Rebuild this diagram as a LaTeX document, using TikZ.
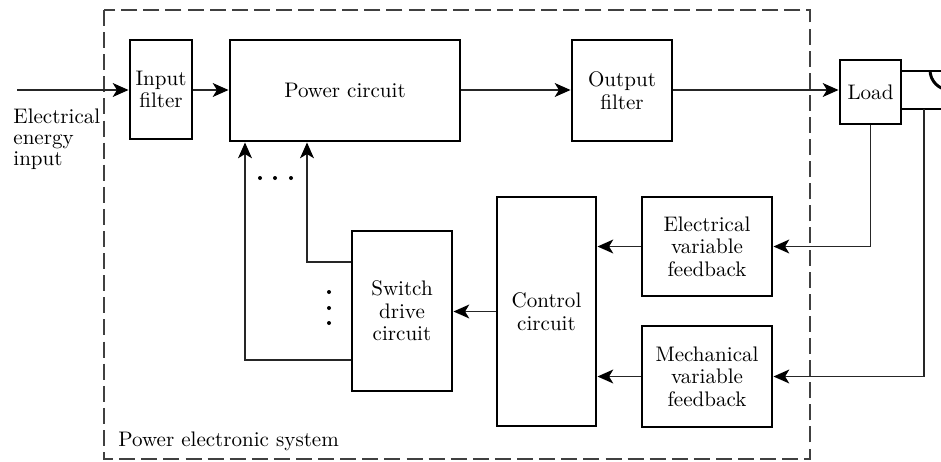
\documentclass[tikz,border=0pt]{standalone}
\usetikzlibrary{arrows.meta}
\begin{document}
\begin{tikzpicture}[x=0.475pt,y=-0.475pt,
  blk/.style={draw,line width=1.4pt,align=center,inner sep=0pt,font=\fontsize{10}{10.7}\selectfont},
  wh/.style 2 args={minimum width={#1*0.475pt},minimum height={#2*0.475pt}},
  arr/.style={line width=0.7pt,draw=black!85,-{Stealth[length=7.5pt,width=6.6pt,inset=2pt,black]}},
  sysbox/.style={line width=0.75pt,black!75,dash pattern=on 7.6pt off 2.9pt}]
\useasboundingbox (0,0) rectangle (941,461);
% system boundary
\draw[sysbox] (104,10) rectangle (810,459);
\node[anchor=base west,inner sep=0pt] (pes) at (118,446) {Power electronic system};
% blocks
\node[blk,wh={62}{99}] (inf) at (161,89.5) {Input\\filter};
\node[blk,wh={230}{101}] (pc) at (345,90.5) {Power circuit};
\node[blk,wh={100}{101}] (of) at (622,90.5) {Output\\filter};
\node[blk,wh={61}{64}] (load) at (870.5,92) {Load};
\node[blk,wh={130}{99}] (efb) at (707,246.5) {Electrical\\variable\\feedback};
\node[blk,wh={130}{101}] (mfb) at (707,376.5) {Mechanical\\variable\\feedback};
\node[blk,wh={99}{229}] (cc) at (546.5,311.5) {Control\\circuit};
\node[blk,wh={100}{160}] (sw) at (402,311) {Switch\\drive\\circuit};
% input text
\node[anchor=north west,align=left,inner sep=0pt,font=\fontsize{10}{10.2}\selectfont] (eei) at (13,108) {Electrical\\energy\\input};
% main chain
\coordinate (in) at (17,90);
\draw[arr] (in) -- (in -| inf.west);
\draw[arr] (in -| inf.east) -- (in -| pc.west);
\draw[arr] (in -| pc.east) -- (in -| of.west);
\draw[arr] (in -| of.east) -- (in -| load.west);
% motor / mechanical part
\coordinate (mt) at (901,71);
\coordinate (mb) at (901,109);
\coordinate (edge) at (946,0);
\draw[line width=1.4pt] (mt) -- (mt -| edge);
\draw[line width=1.4pt] (mb) -- (mb -| edge);
\begin{scope}
  \clip (901,71) rectangle (941,109);
  \draw[line width=1.4pt] (950,70) circle[radius=20];
\end{scope}
% feedback
\coordinate (m) at (924,109);
\draw[arr] (load.south) |- (efb.east);
\draw[arr] (m) |- (mfb.east);
\draw[arr] (efb.west) -- (efb.west -| cc.east);
\draw[arr] (mfb.west) -- (mfb.west -| cc.east);
\draw[arr] (cc.west) -- (cc.west -| sw.east);
% switch outputs
\coordinate (a1) at (307,262);
\coordinate (a2) at (245,360);
\draw[arr] (a1 -| sw.west) -| (a1 |- pc.south);
\draw[arr] (a2 -| sw.west) -| (a2 |- pc.south);
% dots
\foreach \x in {260,275,291} \fill (\x,178) circle[radius=2];
\foreach \y in {292,308,323} \fill (329,\y) circle[radius=2];
\end{tikzpicture}
\end{document}
